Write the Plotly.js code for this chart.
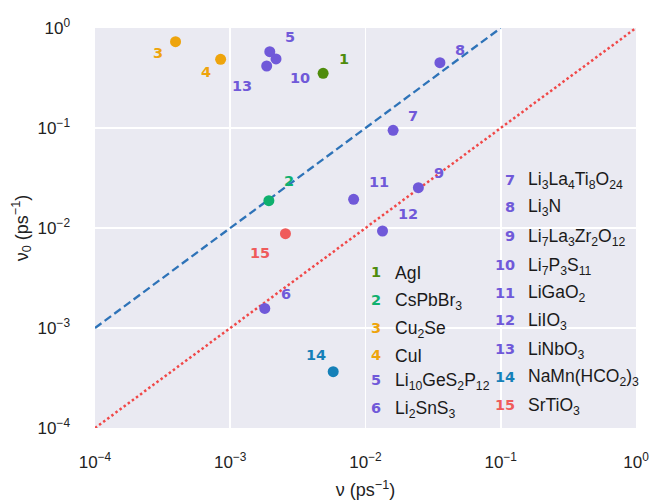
<!DOCTYPE html>
<html>
<head>
<meta charset="utf-8">
<script src="https://cdn.plot.ly/plotly-3.0.1.min.js"></script>
<style>html,body{margin:0;padding:0;background:#fff;}#chart{width:651px;height:501px;}</style>
</head>
<body>
<div id="chart"></div>
<script>
// ---- data ----
const ids = [1,2,3,4,5,6,7,8,9,10,11,12,13,14,15];
const names = ["AgI","CsPbBr<sub>3</sub>","Cu<sub>2</sub>Se","CuI","Li<sub>10</sub>GeS<sub>2</sub>P<sub>12</sub>","Li<sub>2</sub>SnS<sub>3</sub>",
  "Li<sub>3</sub>La<sub>4</sub>Ti<sub>8</sub>O<sub>24</sub>","Li<sub>3</sub>N","Li<sub>7</sub>La<sub>3</sub>Zr<sub>2</sub>O<sub>12</sub>",
  "Li<sub>7</sub>P<sub>3</sub>S<sub>11</sub>","LiGaO<sub>2</sub>","LiIO<sub>3</sub>","LiNbO<sub>3</sub>","NaMn(HCO<sub>2</sub>)<sub>3</sub>","SrTiO<sub>3</sub>"];
const nu  = [0.00486,0.00193,0.000394,0.000849,0.00196,0.00180,0.0160,0.0355,0.0246,0.00218,0.00817,0.01336,0.00186,0.00577,0.00256];
const nu0 = [0.352,0.01875,0.730,0.486,0.580,0.00157,0.0948,0.450,0.0253,0.490,0.01936,0.00933,0.417,0.000366,0.00877];
const dashX = [1e-4, 0.1], dashY = [1e-3, 1];
const dotX = [1e-4, 1], dotY = [1e-4, 1];
const tickVals = [1e-4, 1e-3, 1e-2, 1e-1, 1];
const tickText = ["10<sup>−4</sup>","10<sup>−3</sup>","10<sup>−2</sup>","10<sup>−1</sup>","10<sup>0</sup>"];

// ---- styles ----
const colors = ["#4f8c0c","#0fb06e","#eea40c","#eea40c","#7059d9","#7059d9","#7059d9","#7059d9","#7059d9","#7059d9","#7059d9","#7059d9","#7059d9","#1580b8","#ef5b5b"];
// label offsets in px (dx right, dy up)
const labOff = [[21,14],[20,20],[-18,-11],[-15,-13],[20,15],[21,14],[20,14],[20,13],[21,15],[24,-19],[25,17],[25,17],[-25,-20],[-17,17],[-25,-19]];

const traces = [
  {x: dashX, y: dashY, mode:'lines', line:{color:'#2e73b8', width:2.3, dash:'8px,4px'}, hoverinfo:'skip', showlegend:false},
  {x: dotX, y: dotY, mode:'lines', line:{color:'#f04848', width:2.5, dash:'2.5px,2.6px'}, hoverinfo:'skip', showlegend:false},
  {x: nu, y: nu0, mode:'markers', marker:{color:colors, size:11}, showlegend:false}
];

const L = 95, R = 636, T = 28, B = 428;
const px = v => (v - L) / (R - L);
const py = v => (B - v) / (B - T);
const numFont = c => ({family:'DejaVu Sans', size:14.5, color:c, weight:'bold'});

const annotations = [];
ids.forEach((id, i) => {
  annotations.push({x: Math.log10(nu[i]), y: Math.log10(nu0[i]), xref:'x', yref:'y', text:String(id), showarrow:false,
    xshift: labOff[i][0], yshift: labOff[i][1], font:numFont(colors[i])});
});
// legend columns
const leftRows = [271.7,300,328,355,380,408];
const rightRows = [180,206.7,236,265,292.7,320,349,376.7,405];
ids.forEach((id, i) => {
  let numX, txtX, yy;
  if (i < 6) { numX = 383; txtX = 393; yy = leftRows[i]; }
  else { numX = 517; txtX = 526; yy = rightRows[i-6]; }
  annotations.push({x: px(numX), y: py(yy), xref:'paper', yref:'paper', text:String(id), showarrow:false, xanchor:'right', yanchor:'middle',
    font:numFont(colors[i])});
  annotations.push({x: px(txtX), y: py(yy + 1), xref:'paper', yref:'paper', text:names[i], showarrow:false, xanchor:'left', yanchor:'middle',
    font:{family:'Liberation Sans, Arial, sans-serif', size:17.5, color:'#1a1a1a'}});
});

const shapes = [
  {type:'rect', xref:'paper', yref:'paper', x0:px(450), x1:1, y0:0, y1:py(148), fillcolor:'#eaeaf2', line:{width:0}, layer:'between'},
  {type:'rect', xref:'paper', yref:'paper', x0:px(367.5), x1:px(451), y0:0, y1:py(255), fillcolor:'#eaeaf2', line:{width:0}, layer:'between'}
];

const axisCommon = {type:'log', tickmode:'array', tickvals:tickVals, ticktext:tickText, showgrid:true, gridcolor:'#ffffff', gridwidth:1.7,
  zeroline:false, showline:false, ticks:'', tickfont:{family:'Liberation Sans, Arial, sans-serif', size:17, color:'#222'}};

const layout = {
  width:651, height:501,
  margin:{l:L, r:651-R, t:T, b:501-B},
  paper_bgcolor:'#ffffff', plot_bgcolor:'#eaeaf2',
  xaxis: Object.assign({}, axisCommon, {range:[-4,0], ticklabelstandoff:22,
    title:{text:'ν (ps<sup>−1</sup>)', font:{family:'Liberation Sans, Arial, sans-serif', size:18, color:'#222'}, standoff:12}}),
  yaxis: Object.assign({}, axisCommon, {range:[-4,0], ticklabelstandoff:24,
    title:{text:'ν<sub>0</sub> (ps<sup>−1</sup>)', font:{family:'Liberation Sans, Arial, sans-serif', size:18, color:'#222'}, standoff:4}}),
  annotations: annotations,
  shapes: shapes,
  showlegend:false
};

Plotly.newPlot('chart', traces, layout, {displayModeBar:false, staticPlot:true});
</script>
</body>
</html>
